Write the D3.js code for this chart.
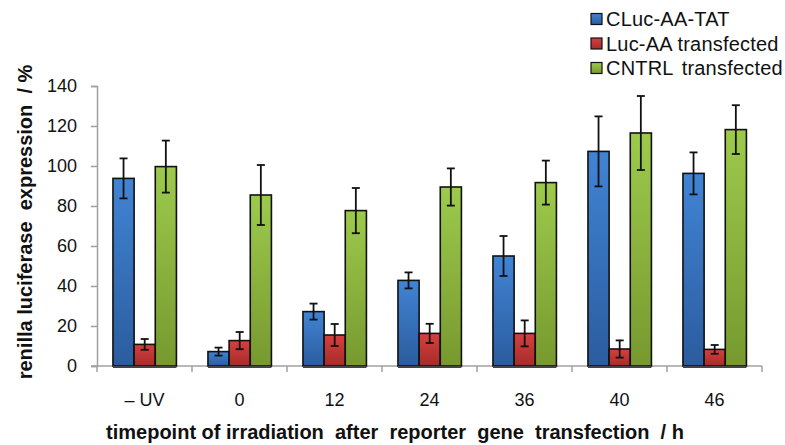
<!DOCTYPE html>
<html>
<head>
<meta charset="utf-8">
<script src="https://cdn.jsdelivr.net/npm/d3@7"></script>
<style>
  body { margin: 0; background: #fff; }
  text { font-family: Arial, "Liberation Sans", sans-serif; }
</style>
</head>
<body>
<div id="chart"></div>
<script>
// categories (timepoints) and series
const categories = ["\u2013 UV", "0", "12", "24", "36", "40", "46"];
const seriesNames = ["CLuc-AA-TAT", "Luc-AA transfected", "CNTRL transfected"];

const clucValues = [93.8, 7.2, 27.2, 42.8, 55, 107.3, 96.3];
const clucErrors = [10, 2, 4, 4, 10, 17.5, 10.5];
const lucValues = [10.8, 12.7, 15.5, 16.3, 16.3, 8.5, 8.3];
const lucErrors = [2.7, 4.3, 5.5, 4.8, 6.5, 4.3, 2.2];
const cntrlValues = [99.7, 85.5, 77.7, 89.5, 91.7, 116.5, 118.2];
const cntrlErrors = [13, 15, 11.3, 9.3, 11, 18.5, 12.2];

const yTicks = [0, 20, 40, 60, 80, 100, 120, 140];

const width = 785, height = 445;
const margin = {top: 86, right: 23, bottom: 79, left: 97};

const svg = d3.select("#chart").append("svg")
    .attr("width", width)
    .attr("height", height);

// gradients for the bars
const grads = [
    {id: "gBlue", top: "#4184d4", bottom: "#2b5c9e"},
    {id: "gRed", top: "#d6403e", bottom: "#a42c2a"},
    {id: "gGreen", top: "#9dca4c", bottom: "#77992f"}
];
const defs = svg.append("defs");
grads.forEach(g => {
    const lg = defs.append("linearGradient")
        .attr("id", g.id)
        .attr("x1", 0).attr("y1", 0).attr("x2", 0).attr("y2", 1);
    lg.append("stop").attr("offset", "0%").attr("stop-color", g.top);
    lg.append("stop").attr("offset", "100%").attr("stop-color", g.bottom);
});

const data = categories.map((c, i) => ({
    cat: c,
    vals: [
        {s: 0, v: clucValues[i], e: clucErrors[i]},
        {s: 1, v: lucValues[i], e: lucErrors[i]},
        {s: 2, v: cntrlValues[i], e: cntrlErrors[i]}
    ]
}));

const x0 = d3.scaleBand()
    .domain(categories)
    .range([margin.left, width - margin.right]);

const bw = x0.bandwidth();
const x1 = d3.scaleBand()
    .domain([0, 1, 2])
    .range([bw * 0.168, bw * 0.836]);

const y = d3.scaleLinear()
    .domain([0, 140])
    .range([height - margin.bottom, margin.top]);

// y axis
svg.append("g")
    .attr("transform", `translate(${margin.left},0)`)
    .call(d3.axisLeft(y).tickValues(yTicks).tickSize(6).tickPadding(14))
    .call(g => g.select(".domain").attr("stroke", "#a0a0a0").attr("stroke-width", 1.5))
    .call(g => g.selectAll(".tick line").attr("stroke", "#a0a0a0").attr("stroke-width", 1.5))
    .call(g => g.selectAll(".tick text").attr("font-size", 18).attr("fill", "#111")
        .style("font-family", "Arial, 'Liberation Sans', sans-serif"));

// x axis (ticks between categories)
const xAxisG = svg.append("g")
    .attr("transform", `translate(0,${y(0)})`);
xAxisG.append("line")
    .attr("x1", margin.left - 6).attr("x2", width - margin.right)
    .attr("stroke", "#a0a0a0").attr("stroke-width", 1.5);
xAxisG.selectAll(".sep")
    .data(categories.concat(["end"]))
    .join("line")
    .attr("class", "sep")
    .attr("x1", (d, i) => i < categories.length ? x0(d) : x0.range()[1])
    .attr("x2", (d, i) => i < categories.length ? x0(d) : x0.range()[1])
    .attr("y1", 0).attr("y2", 6)
    .attr("stroke", "#a0a0a0").attr("stroke-width", 1.5);
xAxisG.selectAll(".lab")
    .data(categories)
    .join("text")
    .attr("class", "lab")
    .attr("x", d => x0(d) + bw / 2)
    .attr("y", 40)
    .attr("text-anchor", "middle")
    .attr("font-size", 18)
    .attr("fill", "#111")
    .text(d => d);

// bars
const groups = svg.selectAll(".grp")
    .data(data)
    .join("g")
    .attr("class", "grp")
    .attr("transform", d => `translate(${x0(d.cat)},0)`);

groups.selectAll("rect")
    .data(d => d.vals)
    .join("rect")
    .attr("x", d => x1(d.s))
    .attr("y", d => y(d.v))
    .attr("width", x1.bandwidth())
    .attr("height", d => y(0) - y(d.v))
    .attr("fill", d => `url(#${grads[d.s].id})`)
    .attr("stroke", "#111")
    .attr("stroke-width", 1.6);

// dark base under each group
groups.append("line")
    .attr("x1", x1(0)).attr("x2", x1(2) + x1.bandwidth())
    .attr("y1", y(0) + 1).attr("y2", y(0) + 1)
    .attr("stroke", "#444").attr("stroke-width", 2);

// error bars
const cap = 4;
const err = groups.selectAll(".err")
    .data(d => d.vals)
    .join("g")
    .attr("class", "err")
    .attr("stroke", "#111")
    .attr("stroke-width", 1.8);
err.append("line")
    .attr("x1", d => x1(d.s) + x1.bandwidth() / 2)
    .attr("x2", d => x1(d.s) + x1.bandwidth() / 2)
    .attr("y1", d => y(d.v + d.e))
    .attr("y2", d => y(d.v - d.e));
err.append("line")
    .attr("x1", d => x1(d.s) + x1.bandwidth() / 2 - cap)
    .attr("x2", d => x1(d.s) + x1.bandwidth() / 2 + cap)
    .attr("y1", d => y(d.v + d.e))
    .attr("y2", d => y(d.v + d.e));
err.append("line")
    .attr("x1", d => x1(d.s) + x1.bandwidth() / 2 - cap)
    .attr("x2", d => x1(d.s) + x1.bandwidth() / 2 + cap)
    .attr("y1", d => y(d.v - d.e))
    .attr("y2", d => y(d.v - d.e));

// axis titles
svg.append("text")
    .attr("transform", "translate(32,222) rotate(-90)")
    .attr("text-anchor", "middle")
    .attr("font-size", 20)
    .attr("font-weight", "bold")
    .attr("fill", "#111")
    .style("white-space", "pre")
    .text("renilla luciferase  expression  / %");

svg.append("text")
    .attr("x", 395)
    .attr("y", 439)
    .attr("text-anchor", "middle")
    .attr("font-size", 20)
    .attr("font-weight", "bold")
    .attr("fill", "#111")
    .style("white-space", "pre")
    .text("timepoint of irradiation  after  reporter  gene  transfection  / h");

// legend
const legend = svg.append("g")
    .attr("transform", "translate(591,0)");
const legRows = legend.selectAll("g")
    .data(seriesNames)
    .join("g")
    .attr("transform", (d, i) => `translate(0,${19 + i * 24.5})`);
legRows.append("rect")
    .attr("x", 0).attr("y", -5.5)
    .attr("width", 11).attr("height", 11)
    .attr("fill", (d, i) => `url(#${grads[i].id})`)
    .attr("stroke", "#111")
    .attr("stroke-width", 1.2);
legRows.append("text")
    .attr("x", 15)
    .attr("y", 7)
    .attr("font-size", 20)
    .attr("letter-spacing", 0.2)
    .attr("word-spacing", (d, i) => i === 2 ? 3 : 0)
    .attr("fill", "#111")
    .style("white-space", "pre")
    .text(d => d);
</script>
</body>
</html>
